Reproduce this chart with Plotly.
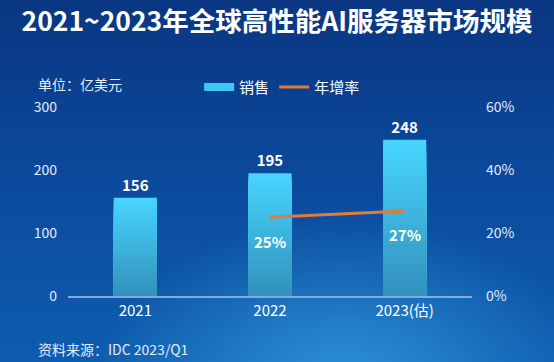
import base64
import plotly.graph_objects as go

categories = ["2021", "2022", "2023(估)"]
sales = [156, 195, 248]
growth_cats = ["2022", "2023(估)"]
growth = [25, 27]
left_ticks = [0, 100, 200, 300]
right_ticks = [0, 20, 40, 60]
right_labels = ["0%", "20%", "40%", "60%"]

FONT = "Noto Sans CJK SC"
N = 30
top_rgb = (72, 214, 255)
bot_rgb = (50, 145, 188)

fig = go.Figure()
for i in range(N):
    frac = (N - i) / N
    t = (N - i - 0.5) / N
    c = tuple(int(bot_rgb[k] + (top_rgb[k] - bot_rgb[k]) * t) for k in range(3))
    fig.add_trace(go.Bar(
        x=categories, y=[v * frac for v in sales], name="销售",
        marker=dict(color="rgb(%d,%d,%d)" % c, line=dict(width=0)),
        width=0.32, showlegend=False, hoverinfo="skip",
    ))
fig.add_trace(go.Bar(
    x=categories, y=sales, name="销售", width=0.32,
    marker=dict(color="rgba(0,0,0,0)", line=dict(width=0)),
    text=[f"<b>{v}</b>" for v in sales], textposition="outside",
    textfont=dict(color="white", size=15, family=FONT), cliponaxis=False,
    showlegend=False,
))
# legend entry for sales (wide cyan rectangle)
fig.add_trace(go.Scatter(
    x=[None], y=[None], name="销售", mode="lines",
    line=dict(color="#3ec8f2", width=8), showlegend=True,
))
fig.add_trace(go.Scatter(
    x=growth_cats, y=growth, name="年增率", yaxis="y2", mode="lines",
    line=dict(color="#e07b39", width=3),
))

svg = ('<svg xmlns="http://www.w3.org/2000/svg" width="554" height="362">'
       '<defs><linearGradient id="g" x1="0" y1="0" x2="0" y2="1">'
       '<stop offset="0" stop-color="#0a3682"/>'
       '<stop offset="0.5" stop-color="#0b4a9c"/>'
       '<stop offset="1" stop-color="#0e5db0"/></linearGradient>'
       '<radialGradient id="r" cx="0.62" cy="1.05" r="0.45">'
       '<stop offset="0" stop-color="#3aa6e6" stop-opacity="0.7"/>'
       '<stop offset="1" stop-color="#3aa6e6" stop-opacity="0"/></radialGradient></defs>'
       '<rect width="554" height="362" fill="url(#g)"/>'
       '<rect width="554" height="362" fill="url(#r)"/></svg>')
uri = "data:image/svg+xml;base64," + base64.b64encode(svg.encode()).decode()

annotations = [
    dict(text="单位：亿美元", xref="paper", yref="paper", x=-0.08, y=1.12,
         xanchor="left", yanchor="middle", showarrow=False,
         font=dict(size=14, color="#e4ecf7")),
    dict(text="资料来源：IDC 2023/Q1", xref="paper", yref="paper", x=-0.08, y=-0.28,
         xanchor="left", yanchor="middle", showarrow=False,
         font=dict(size=14, color="#e4ecf7")),
]
for c, g in zip(growth_cats, growth):
    annotations.append(dict(text=f"<b>{g}%</b>", x=categories.index(c), y=g,
                            xref="x", yref="y2", showarrow=False, yshift=-24,
                            font=dict(size=15, color="white", family=FONT)))

fig.update_layout(
    width=554, height=362,
    margin=dict(l=68, r=82, t=107, b=66, autoexpand=False),
    paper_bgcolor="#0b4a9c", plot_bgcolor="rgba(0,0,0,0)",
    barmode="overlay",
    font=dict(family=FONT, color="#e4ecf7", size=13),
    title=dict(text="<b>2021~2023年全球高性能AI服务器市场规模</b>",
               x=0.5, xanchor="center", y=0.94, yanchor="middle",
               font=dict(size=26.5, color="white", family=FONT)),
    legend=dict(orientation="h", x=0.53, xanchor="center", y=1.105, yanchor="middle",
                font=dict(size=15, color="white"), bgcolor="rgba(0,0,0,0)",
                traceorder="normal"),
    xaxis=dict(type="category", categoryorder="array", categoryarray=categories,
               range=[-0.5, len(categories) - 0.5],
               showgrid=False, showline=True, linecolor="#86a9d6",
               linewidth=1.5, ticks="", tickfont=dict(size=15, color="white"),
               zeroline=False),
    yaxis=dict(range=[0, 300], tickvals=left_ticks, showgrid=False, zeroline=False,
               showline=False, ticks="", ticklabelstandoff=10,
               tickfont=dict(size=14, color="#e4ecf7")),
    yaxis2=dict(range=[0, 60], tickvals=right_ticks, ticktext=right_labels,
                overlaying="y", side="right", showgrid=False, zeroline=False,
                showline=False, ticks="", ticklabelstandoff=13,
                tickfont=dict(size=14, color="#e4ecf7")),
    images=[dict(source=uri, xref="paper", yref="paper", x=-68/404, y=1 + 107/189,
                 sizex=554/404, sizey=362/189, xanchor="left", yanchor="top",
                 sizing="stretch", layer="below")],
    annotations=annotations,
    showlegend=True,
)

fig.write_html("out.html", config={"displayModeBar": False},
               post_script="document.body.style.margin='0';document.body.style.background='#0b4a9c';")
